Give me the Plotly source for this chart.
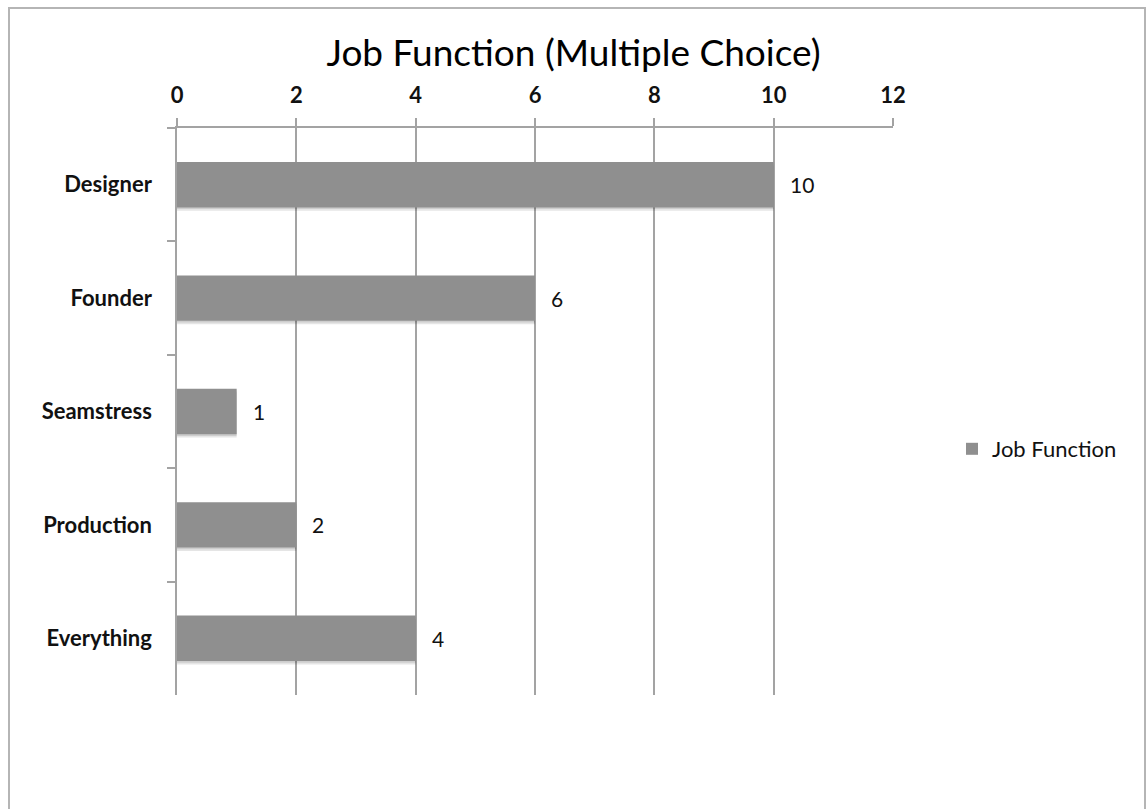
import plotly.graph_objects as go

# Survey responses: job function (multiple choice allowed)
categories = ["Designer", "Founder", "Seamstress", "Production", "Everything"]
counts = [10, 6, 1, 2, 4]
x_ticks = [0, 2, 4, 6, 8, 10, 12]
series_name = "Job Function"

FONT = "Lato"
BAR = "#8f8f8f"
GRID = "#a3a3a3"

fig = go.Figure()

# soft drop shadow under each bar (two translucent layers)
for off, alpha in [(-0.17, 0.10), (-0.185, 0.10)]:
    fig.add_trace(go.Bar(
        x=counts, y=categories, orientation="h",
        width=0.4, offset=off,
        marker=dict(color=f"rgba(0,0,0,{alpha})", line=dict(width=0)),
        showlegend=False, hoverinfo="skip",
    ))

fig.add_trace(go.Bar(
    x=counts, y=categories, orientation="h",
    width=0.4, offset=-0.2,
    name=series_name,
    marker=dict(color=BAR, line=dict(width=0)),
))

# value labels to the right of each bar
for c, v in zip(categories, counts):
    fig.add_annotation(
        x=v, y=c, text=str(v), showarrow=False,
        xanchor="left", yanchor="middle", xshift=14,
        font=dict(family=FONT, size=21, color="#111111"),
    )

# outer frame around the chart
fig.add_shape(
    type="rect", xref="paper", yref="paper",
    x0=(9 - 177) / 716, x1=(1145 - 177) / 716,
    y0=-0.25, y1=(695 - 8) / 567,
    line=dict(color="#b5b5b5", width=2), layer="below",
)

fig.update_layout(
    width=1147, height=809,
    margin=dict(l=177, r=254, t=128, b=114),
    paper_bgcolor="white", plot_bgcolor="white",
    barmode="overlay",
    title=dict(
        text="Job Function (Multiple Choice)",
        x=0.5, xref="container", xanchor="center",
        y=1 - 53 / 809, yref="container", yanchor="middle",
        font=dict(family=FONT, size=37, color="#000000"),
    ),
    xaxis=dict(
        side="top", range=[0, 12], tickvals=x_ticks,
        showgrid=True, gridcolor=GRID, gridwidth=1.5,
        zeroline=False, showline=True, linecolor=GRID, linewidth=1.5,
        ticks="outside", ticklen=8, tickcolor=GRID, tickwidth=1.5,
        ticklabelstandoff=6,
        tickfont=dict(family=FONT, size=22, color="#111111", weight="bold"),
        fixedrange=True,
    ),
    yaxis=dict(
        categoryorder="array", categoryarray=categories,
        autorange="reversed",
        showline=True, linecolor=GRID, linewidth=1.5,
        ticks="outside", ticklen=8, tickcolor=GRID, tickwidth=1.5,
        tickson="boundaries", showgrid=False,
        ticklabelstandoff=19,
        tickfont=dict(family=FONT, size=22, color="#111111", weight="bold"),
        fixedrange=True,
    ),
    legend=dict(
        x=(952 - 177) / 716, xanchor="left",
        y=(695 - 449) / 567, yanchor="middle",
        font=dict(family=FONT, size=22, color="#111111"),
        bgcolor="rgba(0,0,0,0)",
    ),
    showlegend=True,
)

fig.write_html("out.html")
